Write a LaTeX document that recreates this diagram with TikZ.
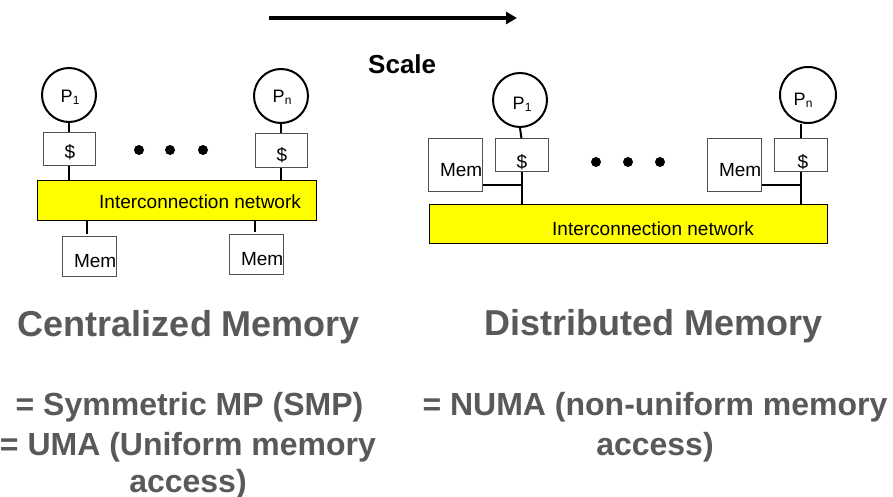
\documentclass[tikz,border=0pt]{standalone}
\usepackage{fontspec}
\setmainfont{Liberation Sans}
\usetikzlibrary{arrows.meta}
\definecolor{captiongray}{HTML}{595959}
\definecolor{boxgray}{HTML}{505050}
\definecolor{netyellow}{HTML}{FFFF00}
\tikzset{
  proc/.style={circle, draw=black, line width=2bp, minimum size=54bp, inner sep=0pt},
  unitbox/.style={rectangle, draw=boxgray, line width=1bp, inner sep=0pt},
  netbox/.style={rectangle, draw=black, fill=netyellow, line width=1bp, inner sep=0pt},
  wire/.style={line width=2bp, black},
  label/.style={inner sep=0pt, font=\fontsize{19bp}{22bp}\selectfont},
  plabel/.style={inner sep=0pt, font=\fontsize{18bp}{20bp}\selectfont},
  dot/.style={circle, fill=black, minimum size=10bp, inner sep=0pt},
  heading/.style={inner sep=0pt, text=captiongray, font=\fontsize{36bp}{40bp}\selectfont\bfseries},
  caption/.style={inner sep=0pt, text=captiongray, font=\fontsize{32bp}{40bp}\selectfont\bfseries},
}
\newcommand{\pone}{P\kern0.3bp\raisebox{-2bp}{\fontsize{12bp}{12bp}\selectfont 1}}
\newcommand{\pn}{P\kern0.3bp\raisebox{-2bp}{\fontsize{12bp}{12bp}\selectfont n}}
\begin{document}
\begin{tikzpicture}[x=1bp, y=-1bp]
\useasboundingbox (0,0) rectangle (893,497);

% scaling arrow
\coordinate (sa) at (269,18);
\coordinate (sb) at (517,18);
\draw[line width=4bp, -{Triangle[length=11bp,width=12bp]}] (sa) -- (sb);
\node[inner sep=0pt, anchor=base west, font=\fontsize{26bp}{30bp}\selectfont\bfseries] (scale) at (368,74) {Scale};

% ---- centralized memory ----
\node[proc] (pa1) at (69,95) {};
\node[proc] (pan) at (281,96) {};
\node[plabel, anchor=base] (pa1t) at (70,103) {\pone};
\node[plabel, anchor=base] (pant) at (282,103) {\pn};

\node[unitbox, minimum width=52bp, minimum height=33bp] (ca1) at (69,149.5) {};
\node[unitbox, minimum width=52bp, minimum height=34bp] (can) at (281,151) {};
\node[label, anchor=base] (ca1t) at (70,159) {\$};
\node[label, anchor=base] (cant) at (282,162) {\$};

\node[dot] (da1) at (139,150) {};
\node[dot] (da2) at (170,150) {};
\node[dot] (da3) at (203,150) {};

\node[netbox, minimum width=278bp, minimum height=40bp] (neta) at (177,201) {};
\node[label, anchor=base west] (netat) at (99,209) {Interconnection network};

\node[unitbox, minimum width=54bp, minimum height=40bp] (ma1) at (89,257) {};
\node[unitbox, minimum width=54bp, minimum height=40bp] (ma2) at (256,255) {};
\node[label, anchor=base east] (ma1t) at (116.5,268) {Mem};
\node[label, anchor=base east] (ma2t) at (283.5,266) {Mem};

\draw[wire] (pa1.south) -- (ca1.north);
\draw[wire] (pan.south) -- (can.north);
\draw[wire] (ca1.south) -- (ca1.south |- neta.north);
\draw[wire] (can.south) -- (can.south |- neta.north);
\draw[wire] ([xshift=-2bp]ma1.north |- neta.south) -- ([xshift=-2bp,yshift=2bp]ma1.north);
\draw[wire] ([xshift=-1bp]ma2.north |- neta.south) -- ([xshift=-1bp,yshift=2bp]ma2.north);

% ---- distributed memory ----
\node[proc] (pb1) at (520,100) {};
\node[proc, minimum size=56bp] (pbn) at (808,95) {};
\node[plabel, anchor=base] (pb1t) at (522,110) {\pone};
\node[plabel, anchor=base] (pbnt) at (803,106) {\pn};

\node[unitbox, minimum width=53bp, minimum height=33bp] (cb1) at (521.5,155.5) {};
\node[unitbox, minimum width=53bp, minimum height=33bp] (cbn) at (800.5,155.5) {};
\node[label, anchor=base] (cb1t) at (522,169) {\$};
\node[label, anchor=base] (cbnt) at (803,169) {\$};

\node[unitbox, minimum width=54bp, minimum height=53bp] (mb1) at (455,165.5) {};
\node[unitbox, minimum width=54bp, minimum height=53bp] (mbn) at (734,165.5) {};
\node[label, anchor=base east] (mb1t) at (482.5,177) {Mem};
\node[label, anchor=base east] (mbnt) at (761.5,177) {Mem};

\node[dot] (db1) at (596,162) {};
\node[dot] (db2) at (628,162) {};
\node[dot] (db3) at (660,162) {};

\node[netbox, minimum width=398bp, minimum height=39bp] (netb) at (628,224.5) {};
\node[label, anchor=base west] (netbt) at (552,236) {Interconnection network};

\draw[wire] (pb1.south) -- (cb1.north);
\draw[wire] (cbn.north) -- (cbn.north |- pbn.south);
\draw[wire] (cb1.south) -- (cb1.south |- netb.north);
\draw[wire] (cbn.south) -- (cbn.south |- netb.north);
\draw[wire] ([yshift=7bp]mb1.south east) -- ([yshift=7bp]mb1.south east -| cb1.south);
\draw[wire] ([yshift=7bp]mbn.south east) -- ([yshift=7bp]mbn.south east -| cbn.south);

% ---- captions ----
\node[heading, anchor=base] (hc) at (189,337) {Centralized Memory};
\node[heading, anchor=base] (hd) at (654,336) {Distributed Memory};

\node[caption, anchor=base] (cc1) at (189.5,415) {= Symmetric MP (SMP)};
\node[caption, anchor=base] (cc2) at (188,455) {= UMA (Uniform memory};
\node[caption, anchor=base] (cc3) at (188,492) {access)};

\node[caption, anchor=base] (cd1) at (655,415) {= NUMA (non-uniform memory};
\node[caption, anchor=base] (cd2) at (655,455) {access)};
\end{tikzpicture}
\end{document}
